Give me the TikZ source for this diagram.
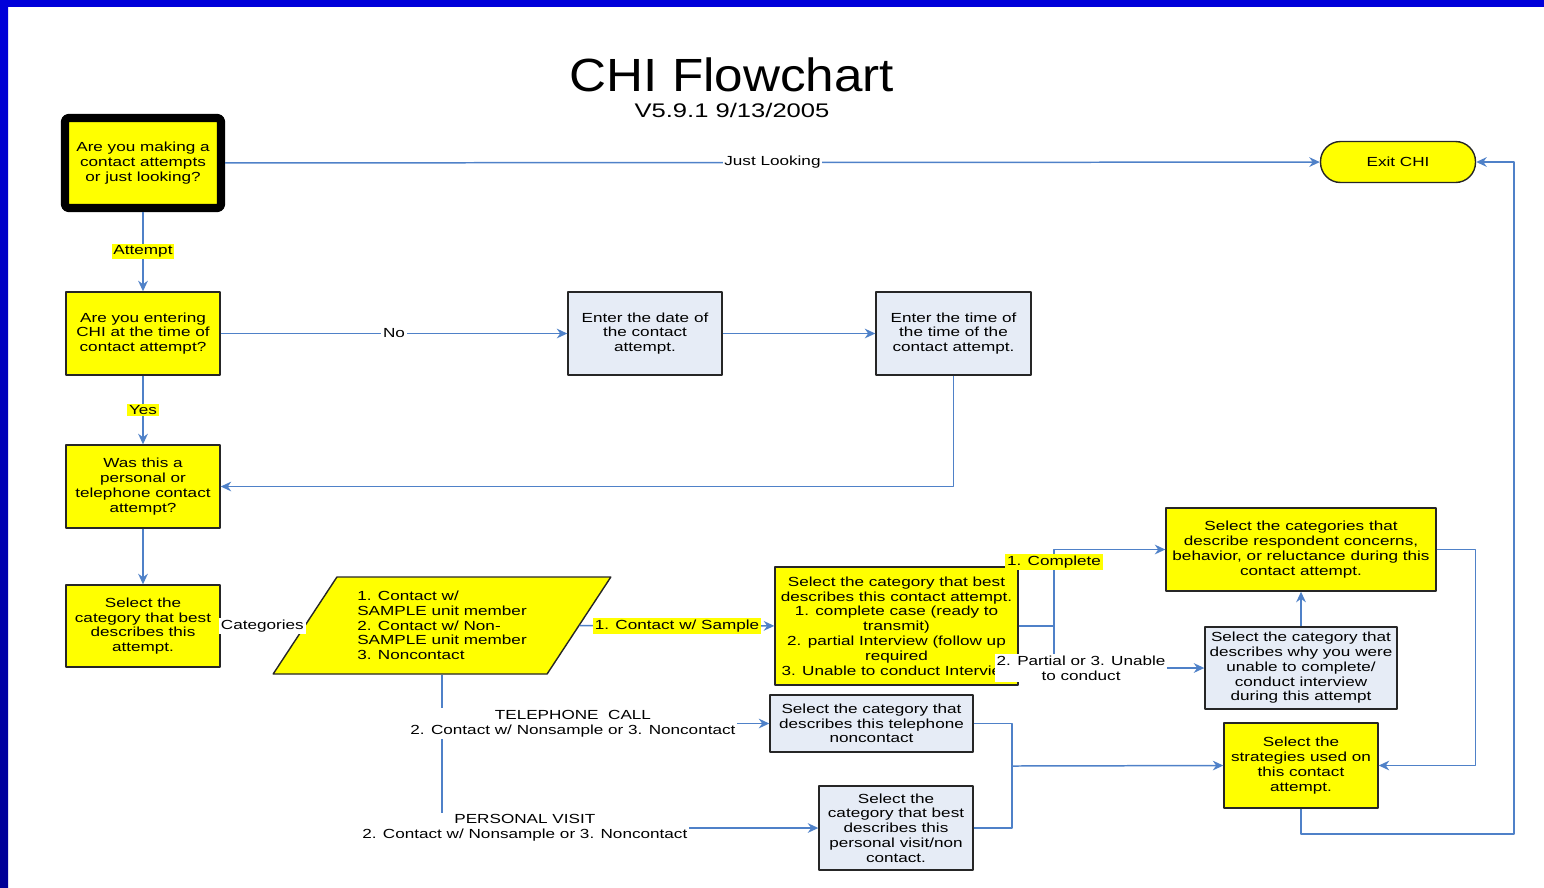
\documentclass[tikz,border=0pt]{standalone}
\usepackage{fontspec}
\setmainfont[FakeStretch=1.3]{Liberation Sans}
\newfontfamily\titlefont[FakeStretch=1.1]{Liberation Sans}
\usetikzlibrary{arrows.meta,shapes.geometric}
\definecolor{chiyellow}{RGB}{255,255,0}
\definecolor{chipale}{RGB}{230,236,246}
\definecolor{chiline}{RGB}{79,129,200}
\definecolor{chiframe}{RGB}{0,0,218}
\definecolor{chiframedark}{RGB}{0,0,150}
\tikzset{
  qbox/.style={draw=black!85, line width=0.8pt, fill=chiyellow, align=center, inner sep=1pt,
    minimum width=3.08cm, minimum height=1.66cm},
  ebox/.style={qbox, fill=chipale},
  flow/.style={->, draw=chiline, line width=0.85pt},
  ylbl/.style={fill=chiyellow, inner sep=1pt},
  wlbl/.style={fill=white, inner sep=1pt, align=center},
}
\begin{document}
\begin{tikzpicture}[x=0.02cm, y=-0.02cm, >={Stealth[length=6pt,width=5.5pt]},
    font=\fontsize{7.5}{8.4}\selectfont, line join=round]
\useasboundingbox (0,0) rectangle (1544,887);
% frame
\fill[chiframe] (0,0) rectangle (1544,7);
\shade[top color=chiframe, bottom color=chiframedark] (0,0) rectangle (8,887);
% title
\node[font=\titlefont\fontsize{26.5}{30}\selectfont] (title) at (732,75) {CHI Flowchart};
\node[font=\fontsize{11.2}{13}\selectfont] (version) at (732,110) {V5.9.1 9/13/2005};
% left column
\node[qbox, draw=black, line width=4.7pt, rounded corners=2pt, minimum width=3.12cm, minimum height=1.8cm]
  (look) at (143,163) {Are you making a\\contact attempts\\or just looking?};
\node[qbox, rounded corners=0.4cm, minimum width=3.1cm, minimum height=0.82cm] (exit) at (1398,162) {Exit CHI};
\node[qbox] (entering) at (143,333.5) {Are you entering\\CHI at the time of\\contact attempt?};
\node[qbox] (kind) at (143,486.5) {Was this a\\personal or\\telephone contact\\attempt?};
\node[qbox, minimum height=1.64cm] (attempt) at (143,626) {Select the\\category that best\\describes this\\attempt.};
% date and time
\node[ebox] (date) at (645,333.5) {Enter the date of\\the contact\\attempt.};
\node[ebox, minimum width=3.1cm] (time) at (953.5,333.5) {Enter the time of\\the time of the\\contact attempt.};
% categories
\node[trapezium, trapezium left angle=54, trapezium right angle=126, trapezium stretches=true,
  draw=black!85, line width=0.8pt, fill=chiyellow, align=left, inner sep=1pt,
  minimum width=6.76cm, minimum height=1.94cm]
  (para) at (442,625.5) {1. Contact w/\\SAMPLE unit member\\2. Contact w/ Non-\\SAMPLE unit member\\3. Noncontact};
\node[qbox, minimum width=4.86cm, minimum height=2.36cm] (sample) at (896.5,626)
  {Select the category that best\\describes this contact attempt.\\1. complete case (ready to\\transmit)\\2. partial Interview (follow up\\required\\\makebox[4.6cm][l]{3. Unable to conduct Interview}};
\node[qbox, minimum width=5.4cm, minimum height=1.66cm] (concerns) at (1301,549.5)
  {Select the categories that\\describe respondent concerns,\\behavior, or reluctance during this\\contact attempt.};
\node[ebox, minimum width=3.84cm, minimum height=1.64cm] (unable) at (1301,668)
  {Select the category that\\describes why you were\\unable to complete/\\conduct interview\\during this attempt};
\node[qbox, minimum height=1.7cm] (strategies) at (1301,765.5) {Select the\\strategies used on\\this contact\\attempt.};
\node[ebox, minimum width=4.06cm, minimum height=1.14cm] (phone) at (871.5,723.5)
  {Select the category that\\describes this telephone\\noncontact};
\node[ebox, minimum height=1.68cm] (visit) at (896,828)
  {Select the\\category that best\\describes this\\personal visit/non\\contact.};
\coordinate (split) at (1054,626);
\coordinate (merge) at (1012,766);
\coordinate (loop) at (1514,834);
% connectors
\foreach \a/\b/\l/\s in {look/entering/Attempt/ylbl, entering/kind/Yes/ylbl, entering/date/No/wlbl,
    look/exit/Just Looking/wlbl, attempt/para/Categories/wlbl, para/sample/{1. Contact w/ Sample}/ylbl}
  \draw[flow] (\a) -- node[\s]{\l} (\b);
\foreach \a/\b in {kind/attempt, date/time, unable/concerns}
  \draw[flow] (\a) -- (\b);
\draw[flow] (time.south) |- (kind.east);
\draw[flow, -] (sample.east) -- (split);
\draw[flow] (split) |- node[ylbl, pos=0.42]{1. Complete} (concerns.west);
\draw[flow] (split) |- node[wlbl, pos=0.59]{2. Partial or 3. Unable\\to conduct} (unable.west);
\draw[flow] (para.south) |- node[wlbl, pos=0.61]{PERSONAL VISIT\\2. Contact w/ Nonsample or 3. Noncontact} (visit.west);
\draw[flow] (para.south) |- node[wlbl, pos=0.7]{TELEPHONE\ \ CALL\\2. Contact w/ Nonsample or 3. Noncontact} (phone.west);
\draw[flow, -] (phone.east) -| (merge);
\draw[flow, -] (visit.east) -| (merge);
\draw[flow] (merge) -- (strategies.west);
\draw[flow] (concerns.east) -- ++(39,0) |- (strategies.east);
\draw[flow] (strategies.south) |- (loop) |- (exit.east);
\end{tikzpicture}
\end{document}
